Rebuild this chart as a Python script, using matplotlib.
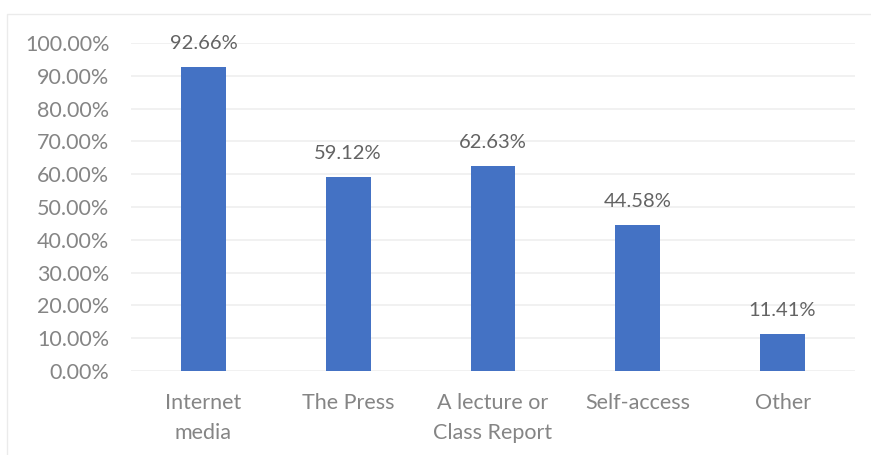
import matplotlib.pyplot as plt
from matplotlib.patches import Rectangle
from matplotlib.ticker import FuncFormatter, MultipleLocator

categories = ['Internet\nmedia', 'The Press', 'A lecture or\nClass Report', 'Self-access', 'Other']
values = [92.66, 59.12, 62.63, 44.58, 11.41]

tick_color = '#858585'
label_color = '#636363'
bar_color = '#4472C4'

plt.rcParams['font.family'] = ['Lato', 'DejaVu Sans']

fig = plt.figure(figsize=(8.71, 4.55), dpi=100)
# light chart border like excel
fig.patches.append(Rectangle((7 / 871, -0.05), 1.0, 1 - 14 / 455 + 0.05,
                             transform=fig.transFigure, fill=False,
                             edgecolor='#EBEBEB', linewidth=1.0))

ax = fig.add_axes([131 / 871, 1 - 371 / 455, (855 - 131) / 871, (371 - 43) / 455])

x = range(len(categories))
ax.bar(x, values, width=0.31, color=bar_color, zorder=3)

for i, v in enumerate(values):
    ax.text(i, v + 4.5, f'{v:.2f}%', ha='center', va='bottom',
            fontsize=14.5, color=label_color)

ax.set_xlim(-0.5, len(categories) - 0.5)
ax.set_ylim(0, 100)
ax.yaxis.set_major_locator(MultipleLocator(10))
ax.yaxis.set_major_formatter(FuncFormatter(lambda v, p: f'{v:.2f}%'))
ax.set_xticks(list(x))
ax.set_xticklabels(categories, linespacing=1.6)

ax.grid(axis='y', color='#EFEFEF', linewidth=1.2, zorder=0)
for s in ax.spines.values():
    s.set_visible(False)
ax.tick_params(axis='both', length=0, labelsize=15.5, labelcolor=tick_color)
ax.tick_params(axis='y', pad=15.5)
ax.tick_params(axis='x', pad=16)

fig.savefig('out.png', dpi=100)
